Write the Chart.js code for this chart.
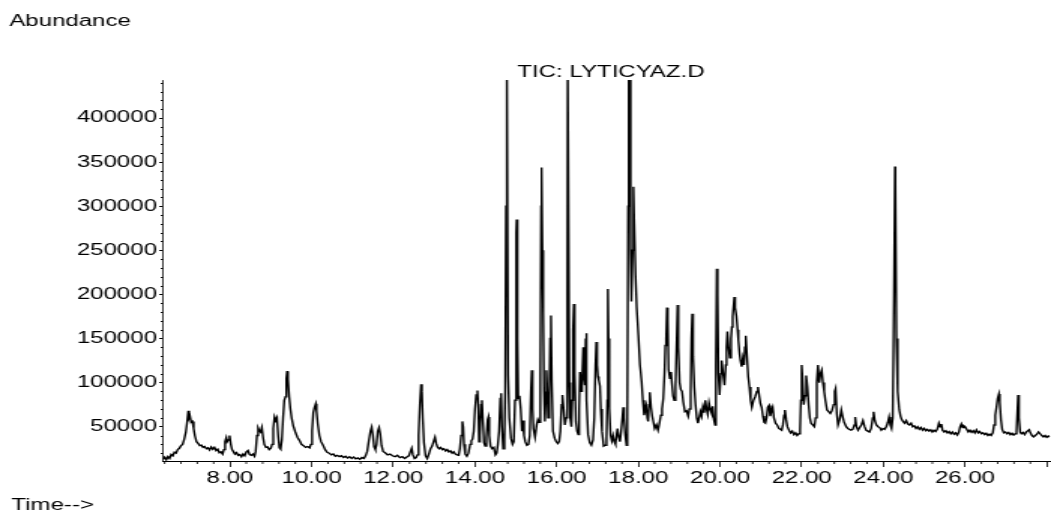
<!DOCTYPE html>
<html>
<head>
<meta charset="utf-8">
<title>TIC: LYTICYAZ.D</title>
<script src="https://cdn.jsdelivr.net/npm/chart.js@4.4.1/dist/chart.umd.min.js"></script>
<style>
    html, body { margin: 0; padding: 0; background: #fff; overflow: hidden; }
    /* printout layout: drawn narrow, then widened like the instrument report */
    #wrap {
        position: absolute; left: 0; top: 0;
        width: 700px; height: 510px;
        transform: scaleX(1.50143); transform-origin: 0 0;
    }
</style>
</head>
<body>
<div id="wrap"><canvas id="ticChart"></canvas></div>
<script>
// Total ion chromatogram - retention time (min) and abundance
const timeMin = [
    6.36, 6.40, 6.44, 6.48, 6.52, 6.56, 6.60, 6.64, 6.68, 6.72,
    6.76, 6.80, 6.84, 6.88, 6.92, 6.95, 6.98, 7.00, 7.02, 7.05,
    7.08, 7.11, 7.14, 7.18, 7.22, 7.26, 7.30, 7.34, 7.38, 7.42,
    7.46, 7.50, 7.54, 7.58, 7.62, 7.66, 7.70, 7.74, 7.78, 7.82,
    7.85, 7.88, 7.91, 7.93, 7.96, 7.99, 8.02, 8.05, 8.08, 8.12,
    8.16, 8.20, 8.24, 8.28, 8.32, 8.36, 8.40, 8.44, 8.48, 8.52,
    8.56, 8.60, 8.63, 8.66, 8.69, 8.72, 8.75, 8.78, 8.81, 8.84,
    8.88, 8.92, 8.96, 9.00, 9.03, 9.06, 9.09, 9.12, 9.15, 9.18,
    9.21, 9.24, 9.27, 9.30, 9.33, 9.36, 9.38, 9.40, 9.42, 9.45,
    9.48, 9.51, 9.55, 9.60, 9.65, 9.70, 9.75, 9.80, 9.85, 9.90,
    9.95, 9.98, 10.01, 10.04, 10.07, 10.10, 10.12, 10.15, 10.19, 10.23,
    10.28, 10.33, 10.38, 10.43, 10.48, 10.53, 10.58, 10.63, 10.68, 10.73,
    10.78, 10.83, 10.88, 10.93, 10.98, 11.03, 11.08, 11.13, 11.18, 11.23,
    11.28, 11.32, 11.36, 11.40, 11.44, 11.47, 11.50, 11.53, 11.56, 11.59,
    11.62, 11.65, 11.68, 11.71, 11.75, 11.80, 11.86, 11.92, 11.98, 12.04,
    12.10, 12.16, 12.22, 12.28, 12.33, 12.38, 12.42, 12.45, 12.48, 12.52,
    12.56, 12.59, 12.62, 12.65, 12.68, 12.70, 12.72, 12.75, 12.79, 12.83,
    12.87, 12.91, 12.95, 12.99, 13.02, 13.05, 13.08, 13.12, 13.16, 13.20,
    13.24, 13.28, 13.32, 13.36, 13.40, 13.44, 13.48, 13.52, 13.56, 13.60,
    13.63, 13.66, 13.69, 13.71, 13.73, 13.76, 13.80, 13.84, 13.88, 13.91,
    13.94, 13.97, 14.00, 14.03, 14.06, 14.08, 14.10, 14.12, 14.15, 14.17,
    14.19, 14.22, 14.25, 14.28, 14.31, 14.33, 14.35, 14.38, 14.42, 14.46,
    14.50, 14.53, 14.56, 14.59, 14.62, 14.64, 14.66, 14.69, 14.72, 14.74,
    14.76, 14.77, 14.79, 14.81, 14.84, 14.88, 14.92, 14.95, 14.98, 15.01,
    15.02, 15.04, 15.06, 15.09, 15.12, 15.15, 15.17, 15.20, 15.23, 15.27,
    15.31, 15.34, 15.37, 15.39, 15.41, 15.43, 15.47, 15.51, 15.54, 15.57,
    15.60, 15.62, 15.63, 15.65, 15.67, 15.69, 15.71, 15.73, 15.75, 15.77,
    15.79, 15.82, 15.84, 15.86, 15.88, 15.91, 15.95, 15.99, 16.03, 16.06,
    16.09, 16.12, 16.14, 16.17, 16.20, 16.23, 16.26, 16.27, 16.29, 16.31,
    16.33, 16.36, 16.38, 16.40, 16.42, 16.44, 16.47, 16.50, 16.53, 16.55,
    16.57, 16.60, 16.62, 16.65, 16.67, 16.69, 16.71, 16.72, 16.74, 16.77,
    16.81, 16.85, 16.89, 16.92, 16.95, 16.97, 16.99, 17.01, 17.03, 17.06,
    17.08, 17.11, 17.15, 17.19, 17.22, 17.24, 17.255, 17.27, 17.29, 17.32,
    17.35, 17.38, 17.41, 17.44, 17.47, 17.49, 17.52, 17.55, 17.58, 17.61,
    17.63, 17.65, 17.68, 17.71, 17.73, 17.75, 17.765, 17.79, 17.81, 17.83,
    17.86, 17.88, 17.90, 17.93, 17.96, 18.00, 18.04, 18.08, 18.11, 18.14,
    18.17, 18.19, 18.22, 18.24, 18.26, 18.28, 18.31, 18.34, 18.37, 18.40,
    18.44, 18.48, 18.52, 18.55, 18.58, 18.61, 18.64, 18.66, 18.68, 18.70,
    18.72, 18.74, 18.77, 18.80, 18.82, 18.85, 18.88, 18.91, 18.94, 18.96,
    18.98, 19.01, 19.04, 19.07, 19.10, 19.14, 19.18, 19.22, 19.25, 19.28,
    19.30, 19.32, 19.34, 19.37, 19.40, 19.43, 19.46, 19.49, 19.52, 19.55,
    19.58, 19.61, 19.64, 19.67, 19.70, 19.73, 19.76, 19.79, 19.82, 19.85,
    19.88, 19.90, 19.92, 19.94, 19.96, 19.99, 20.02, 20.04, 20.07, 20.11,
    20.14, 20.16, 20.18, 20.21, 20.24, 20.27, 20.29, 20.31, 20.33, 20.35,
    20.37, 20.40, 20.43, 20.45, 20.48, 20.50, 20.53, 20.56, 20.59, 20.61,
    20.63, 20.66, 20.69, 20.72, 20.75, 20.78, 20.82, 20.86, 20.90, 20.93,
    20.96, 20.99, 21.02, 21.05, 21.08, 21.11, 21.14, 21.17, 21.20, 21.23,
    21.26, 21.29, 21.32, 21.36, 21.40, 21.44, 21.48, 21.51, 21.54, 21.57,
    21.59, 21.62, 21.65, 21.69, 21.73, 21.77, 21.81, 21.85, 21.89, 21.93,
    21.96, 21.98, 22.00, 22.02, 22.05, 22.08, 22.11, 22.14, 22.17, 22.20,
    22.23, 22.27, 22.31, 22.34, 22.37, 22.40, 22.43, 22.46, 22.49, 22.52,
    22.55, 22.58, 22.62, 22.66, 22.70, 22.74, 22.78, 22.81, 22.83, 22.86,
    22.89, 22.93, 22.97, 23.00, 23.04, 23.09, 23.13, 23.17, 23.21, 23.25,
    23.29, 23.31, 23.34, 23.38, 23.42, 23.46, 23.50, 23.54, 23.58, 23.62,
    23.66, 23.70, 23.74, 23.76, 23.79, 23.83, 23.87, 23.91, 23.95, 23.99,
    24.03, 24.07, 24.11, 24.14, 24.17, 24.20, 24.23, 24.26, 24.285, 24.295,
    24.32, 24.35, 24.39, 24.42, 24.45, 24.48, 24.52, 24.56, 24.60, 24.64,
    24.68, 24.72, 24.76, 24.80, 24.84, 24.88, 24.92, 24.96, 25.00, 25.04,
    25.08, 25.12, 25.16, 25.20, 25.24, 25.28, 25.32, 25.36, 25.39, 25.42,
    25.45, 25.49, 25.53, 25.57, 25.61, 25.65, 25.69, 25.73, 25.77, 25.81,
    25.85, 25.88, 25.91, 25.94, 25.97, 26.00, 26.04, 26.08, 26.12, 26.16,
    26.20, 26.24, 26.28, 26.32, 26.36, 26.40, 26.44, 26.48, 26.52, 26.56,
    26.60, 26.64, 26.68, 26.71, 26.74, 26.77, 26.80, 26.83, 26.85, 26.88,
    26.91, 26.95, 26.99, 27.03, 27.07, 27.11, 27.15, 27.19, 27.23, 27.26,
    27.28, 27.30, 27.32, 27.35, 27.38, 27.42, 27.46, 27.50, 27.54, 27.57,
    27.60, 27.64, 27.68, 27.72, 27.76, 27.80, 27.84, 27.88, 27.92, 27.96,
    28.00, 28.04, 28.08
];

const abundance = [
    13000, 15500, 12500, 16000, 14000, 18500, 17000, 21000, 20000, 24000,
    25500, 28500, 30000, 36000, 44000, 55000, 68000, 60000, 62000, 55000,
    56000, 48000, 40000, 33000, 31000, 28500, 29000, 26500, 27500, 25000,
    26000, 23500, 27000, 24500, 26500, 23000, 24500, 20500, 21500, 19000,
    24000, 33000, 37500, 33000, 35000, 40000, 30000, 24000, 22000, 19000,
    20500, 17500, 18500, 16000, 19000, 17000, 21500, 23000, 18500, 17500,
    19000, 16500, 22000, 40000, 48500, 45500, 44000, 49000, 38000, 30000,
    26500, 27000, 24000, 25500, 30000, 48000, 61000, 57000, 60000, 40000,
    26000, 24500, 35000, 60000, 80000, 84000, 105000, 113000, 104000, 84000,
    70000, 60000, 51000, 44000, 38000, 34500, 30000, 28500, 26500, 27500,
    26000, 30000, 45000, 66000, 72000, 76000, 68000, 53000, 40000, 33000,
    29000, 24000, 21000, 20000, 18000, 19000, 16500, 17500, 16000, 17000,
    15000, 16500, 14500, 16000, 14000, 15500, 13500, 14500, 13000, 15000,
    14000, 17000, 22000, 34000, 45000, 49500, 40000, 27000, 24000, 30000,
    45000, 49000, 42000, 29000, 22000, 20500, 18000, 19000, 17000, 16000,
    17500, 15000, 16000, 14000, 15500, 17000, 22000, 25500, 18000, 14000,
    15000, 18000, 40000, 75000, 98000, 90000, 60000, 32000, 17000, 14000,
    19000, 25000, 28000, 34000, 38000, 31000, 27000, 25000, 26500, 24000,
    25000, 22500, 24000, 21500, 22500, 20000, 21500, 19000, 18000, 17500,
    25000, 40000, 56000, 50000, 30000, 19000, 16500, 20000, 30000, 34000,
    36000, 45000, 70000, 86000, 91000, 75000, 33000, 40000, 75000, 80000,
    60000, 32000, 28000, 38000, 58000, 61000, 40000, 28000, 25000, 26500,
    18000, 20000, 30000, 45000, 82000, 88000, 50000, 25000, 35000, 90000,
    300000, 470000, 470000, 108000, 60000, 37000, 30000, 33000, 80000, 270000,
    285000, 150000, 82000, 85000, 70000, 45000, 57000, 40000, 33000, 29000,
    30000, 40000, 90000, 114000, 70000, 48000, 38000, 52000, 58000, 55000,
    110000, 300000, 344000, 250000, 180000, 90000, 56000, 80000, 114000, 90000,
    60000, 80000, 150000, 176000, 100000, 45000, 37000, 33000, 31000, 33000,
    45000, 75000, 86000, 70000, 52000, 60000, 200000, 470000, 470000, 100000,
    60000, 50000, 80000, 160000, 189000, 110000, 56000, 45000, 41000, 70000,
    112000, 90000, 100000, 140000, 105000, 97000, 150000, 156000, 80000, 41000,
    32000, 29000, 35000, 60000, 120000, 146000, 120000, 107000, 103000, 96000,
    70000, 45000, 28000, 29000, 37000, 80000, 206000, 150000, 71000, 40000,
    34000, 40000, 33000, 30000, 42000, 48000, 38000, 33000, 45000, 60000,
    72000, 60000, 40000, 29000, 60000, 300000, 470000, 470000, 250000, 192000,
    250000, 322000, 280000, 222000, 185000, 154000, 120000, 101000, 80000, 63000,
    70000, 74000, 60000, 56000, 75000, 89000, 72000, 62000, 55000, 48000,
    52000, 46000, 55000, 63000, 70000, 82000, 110000, 142000, 150000, 185000,
    170000, 115000, 105000, 112000, 100000, 85000, 80000, 95000, 150000, 188000,
    140000, 100000, 92000, 90000, 78000, 67000, 68000, 62000, 70000, 90000,
    150000, 178000, 130000, 95000, 75000, 60000, 54000, 60000, 67000, 62000,
    72000, 66000, 80000, 70000, 64000, 77000, 70000, 66000, 73000, 58000,
    52000, 120000, 229000, 200000, 110000, 86000, 110000, 125000, 112000, 97000,
    120000, 140000, 158000, 140000, 128000, 150000, 163000, 175000, 186000, 197000,
    185000, 176000, 160000, 148000, 132000, 125000, 118000, 128000, 120000, 140000,
    153000, 130000, 107000, 95000, 80000, 72000, 80000, 84000, 90000, 95000,
    85000, 76000, 72000, 62000, 55000, 54000, 60000, 72000, 74000, 62000,
    68000, 72000, 60000, 54000, 52000, 48000, 47000, 46000, 52000, 63000,
    69000, 58000, 50000, 46000, 43000, 45000, 41000, 43000, 40000, 42000,
    46000, 80000, 120000, 105000, 75000, 85000, 108000, 95000, 75000, 60000,
    54000, 52000, 50000, 60000, 100000, 120000, 100000, 110000, 114000, 100000,
    90000, 80000, 69000, 67000, 65000, 68000, 75000, 90000, 93000, 65000,
    52000, 58000, 69000, 62000, 55000, 50000, 48000, 47000, 46000, 47000,
    52000, 61000, 50000, 46000, 49000, 52000, 57000, 50000, 46000, 45000,
    44000, 48000, 60000, 67000, 57000, 52000, 50000, 49000, 46000, 48000,
    47000, 50000, 55000, 61000, 52000, 48000, 60000, 200000, 345000, 325000,
    150000, 90000, 69000, 62000, 58000, 56000, 54000, 57000, 53000, 52000,
    54000, 50000, 51000, 48000, 50000, 47000, 49000, 46000, 48000, 45500,
    47000, 45000, 46500, 44000, 46000, 44500, 47000, 54000, 50000, 53000,
    46000, 44000, 45500, 43000, 44500, 42000, 44000, 41500, 43000, 40500,
    44000, 50000, 53000, 49000, 51000, 50000, 47000, 44000, 46000, 43500,
    45500, 43000, 46500, 43000, 44500, 42000, 43000, 41000, 42500, 40000,
    41500, 40000, 43000, 52000, 63000, 72000, 82000, 87000, 78000, 58000,
    47000, 43000, 44000, 42000, 43500, 41000, 42500, 40500, 42000, 44000,
    65000, 86000, 60000, 44000, 42000, 43500, 41000, 44000, 45500, 46500,
    43000, 40000, 38500, 40000, 41500, 44000, 42000, 40000, 38500, 40000,
    38000, 39500, 38500
];

// Axis ranges and labelled ticks
const timeRange = [6.36, 28.08];
const abundanceRange = [11100, 443100];
const xTickValues = [8, 10, 12, 14, 16, 18, 20, 22, 24, 26, 28];
const yTickValues = [50000, 100000, 150000, 200000, 250000, 300000, 350000, 400000];
const xMinorStep = 0.4;
const yMinorStep = 10000;

if (timeMin.length !== abundance.length) {
    console.warn('time/abundance length mismatch', timeMin.length, abundance.length);
}

const labelFont = { family: "'Liberation Sans', Arial, sans-serif", size: 16 };

// Short unlabelled ticks between the labelled ones
const minorTicks = {
    id: 'minorTicks',
    afterDraw(chart) {
        const { ctx, chartArea } = chart;
        const x = chart.scales.x;
        const y = chart.scales.y;
        ctx.save();
        ctx.strokeStyle = '#000';
        ctx.beginPath();
        ctx.lineWidth = 0.8;
        for (let k = Math.ceil(x.min / xMinorStep); k * xMinorStep <= x.max; k++) {
            if (Math.round(k * xMinorStep * 10) % 20 === 0) continue;
            const px = x.getPixelForValue(k * xMinorStep);
            ctx.moveTo(px, chartArea.bottom);
            ctx.lineTo(px, chartArea.bottom + 3);
        }
        ctx.stroke();
        ctx.beginPath();
        ctx.lineWidth = 1;
        for (let k = Math.ceil(y.min / yMinorStep); k * yMinorStep <= y.max; k++) {
            if ((k * yMinorStep) % 50000 === 0) continue;
            const py = Math.round(y.getPixelForValue(k * yMinorStep)) + 0.5;
            ctx.moveTo(chartArea.left, py);
            ctx.lineTo(chartArea.left - 1.5, py);
        }
        ctx.stroke();
        ctx.restore();
    }
};

// Report captions: axis names and the data file
const captions = {
    id: 'captions',
    afterDraw(chart) {
        const { ctx, chartArea } = chart;
        ctx.save();
        ctx.fillStyle = '#000';
        ctx.font = `${labelFont.size}px ${labelFont.family}`;
        ctx.textBaseline = 'alphabetic';
        ctx.textAlign = 'left';
        ctx.fillText('Abundance', 6.2, 25.7);
        ctx.fillText('Time-->', 7.6, 509.5);
        ctx.textAlign = 'center';
        ctx.fillText('TIC: LYTICYAZ.D', (chartArea.left + chartArea.right) / 2 + 3, 77);
        ctx.restore();
    }
};

const ctx = document.getElementById('ticChart').getContext('2d');
new Chart(ctx, {
    type: 'line',
    data: {
        datasets: [{
            label: 'TIC: LYTICYAZ.D',
            data: timeMin.map((t, i) => ({ x: t, y: abundance[i] })),
            borderColor: '#000',
            borderWidth: 1.4,
            pointRadius: 0,
            tension: 0,
            fill: false
        }]
    },
    options: {
        responsive: true,
        maintainAspectRatio: false,
        animation: false,
        events: [],
        layout: {
            padding: { top: 80, left: 8.56, right: 0, bottom: 0 }
        },
        plugins: {
            legend: { display: false },
            tooltip: { enabled: false }
        },
        scales: {
            x: {
                type: 'linear',
                min: timeRange[0],
                max: timeRange[1],
                afterBuildTicks: scale => {
                    scale.ticks = xTickValues.map(v => ({ value: v }));
                },
                afterFit: scale => { scale.height = 49; },
                ticks: {
                    font: labelFont,
                    color: '#000',
                    padding: 1.5,
                    maxRotation: 0,
                    autoSkip: false,
                    callback: v => (v < timeRange[1] - 1 ? v.toFixed(2) : '')
                },
                grid: {
                    drawOnChartArea: false,
                    drawTicks: true,
                    tickLength: 6,
                    tickColor: '#000',
                    tickWidth: 0.8
                },
                border: { display: true, color: '#000', width: 1 }
            },
            y: {
                min: abundanceRange[0],
                max: abundanceRange[1],
                afterBuildTicks: scale => {
                    scale.ticks = yTickValues.map(v => ({ value: v }));
                },
                afterFit: scale => { scale.width = 100; },
                ticks: {
                    font: labelFont,
                    color: '#000',
                    padding: 1.5,
                    callback: v => String(v)
                },
                grid: {
                    drawOnChartArea: false,
                    drawTicks: true,
                    tickLength: 2.5,
                    tickColor: '#000',
                    tickWidth: 1
                },
                border: { display: true, color: '#000', width: 0.8 }
            }
        }
    },
    plugins: [minorTicks, captions]
});
</script>
</body>
</html>
